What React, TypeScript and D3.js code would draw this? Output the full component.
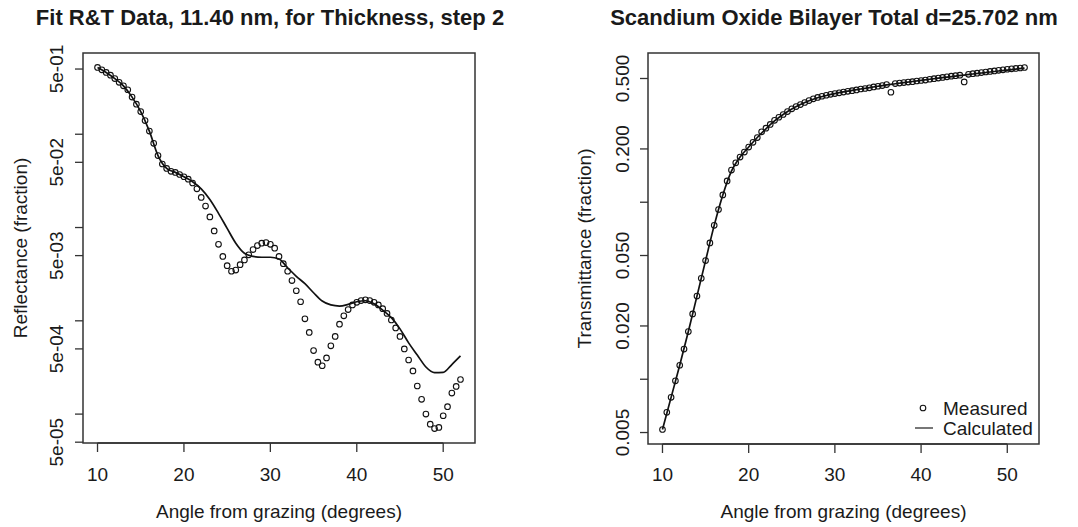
import React from "react";
import * as d3 from "d3";

// measured angles (degrees), 0.5 deg steps
const angles = [
  10, 10.5, 11, 11.5, 12, 12.5, 13, 13.5, 14, 14.5, 15, 15.5, 16, 16.5, 17, 17.5,
  18, 18.5, 19, 19.5, 20, 20.5, 21, 21.5, 22, 22.5, 23, 23.5, 24, 24.5, 25, 25.5,
  26, 26.5, 27, 27.5, 28, 28.5, 29, 29.5, 30, 30.5, 31, 31.5, 32, 32.5, 33, 33.5,
  34, 34.5, 35, 35.5, 36, 36.5, 37, 37.5, 38, 38.5, 39, 39.5, 40, 40.5, 41, 41.5,
  42, 42.5, 43, 43.5, 44, 44.5, 45, 45.5, 46, 46.5, 47, 47.5, 48, 48.5, 49, 49.5,
  50, 50.5, 51, 51.5, 52,
];

const reflMeasured = [
  0.52, 0.49, 0.46, 0.43, 0.395, 0.36, 0.33, 0.3, 0.25, 0.21, 0.175, 0.14, 0.108, 0.08, 0.059, 0.048,
  0.043, 0.04, 0.039, 0.037, 0.035, 0.033, 0.03, 0.026, 0.021, 0.017, 0.013, 0.0092, 0.0066, 0.0049, 0.0039, 0.0034,
  0.0035, 0.004, 0.0045, 0.0051, 0.0058, 0.0064, 0.0068, 0.0069, 0.0066, 0.006, 0.0049, 0.0041, 0.0034, 0.0027, 0.0021, 0.0016,
  0.00105, 0.00075, 0.00048, 0.00036, 0.00033, 0.0004, 0.00054, 0.00068, 0.00092, 0.00113, 0.00132, 0.00148, 0.00158, 0.00165, 0.00168, 0.00165,
  0.00158, 0.00148, 0.00135, 0.0012, 0.00102, 0.00084, 0.00068, 0.0005, 0.00038, 0.00029, 0.0002, 0.000144, 0.0001, 0.000078, 0.00007, 0.000072,
  0.000096, 0.00012, 0.000168, 0.000198, 0.000235,
];

const transMeasured = [
  0.0052, 0.0065, 0.0079, 0.0098, 0.012, 0.0148, 0.0186, 0.0234, 0.0295, 0.0372, 0.0468, 0.0589, 0.074, 0.091, 0.11, 0.132,
  0.152, 0.167, 0.18, 0.192, 0.205, 0.218, 0.232, 0.25, 0.262, 0.275, 0.29, 0.302, 0.313, 0.325, 0.337, 0.347,
  0.356, 0.366, 0.375, 0.384, 0.391, 0.397, 0.402, 0.407, 0.411, 0.415, 0.419, 0.423, 0.427, 0.431, 0.436, 0.439,
  0.443, 0.448, 0.452, 0.456, 0.462, 0.418, 0.468, 0.471, 0.474, 0.477, 0.48, 0.484, 0.487, 0.49, 0.495, 0.499,
  0.503, 0.507, 0.511, 0.515, 0.519, 0.522, 0.478, 0.528, 0.532, 0.536, 0.54, 0.544, 0.548, 0.552, 0.556, 0.56,
  0.564, 0.567, 0.57, 0.573, 0.577,
];

// calculated curves, 1 deg steps
const calcAngles = [
  10, 11, 12, 13, 14, 15, 16, 17, 18, 19, 20, 21, 22, 23, 24, 25, 26, 27, 28, 29, 30, 31,
  32, 33, 34, 35, 36, 37, 38, 39, 40, 41, 42, 43, 44, 45, 46, 47, 48, 49, 50, 51, 52,
];

const reflCalc = [
  0.52, 0.46, 0.395, 0.33, 0.25, 0.175, 0.108, 0.059, 0.043, 0.039, 0.035, 0.031, 0.026, 0.02, 0.0142, 0.0098,
  0.0068, 0.0053, 0.0049, 0.0048, 0.0048, 0.0046, 0.0037, 0.003, 0.0025, 0.002, 0.00163, 0.00148, 0.00144, 0.0015,
  0.0016, 0.00164, 0.00152, 0.0013, 0.00108, 0.00082, 0.00058, 0.00043, 0.00032, 0.000278, 0.00028, 0.00034, 0.00042,
];

const transCalc = [
  0.0052, 0.0079, 0.012, 0.0186, 0.0295, 0.0468, 0.074, 0.11, 0.15, 0.18, 0.205, 0.232, 0.26, 0.288, 0.313, 0.336,
  0.356, 0.374, 0.389, 0.401, 0.411, 0.42, 0.428, 0.436, 0.444, 0.452, 0.46, 0.467, 0.474, 0.481, 0.488, 0.495,
  0.502, 0.509, 0.516, 0.523, 0.53, 0.537, 0.544, 0.551, 0.558, 0.565, 0.572,
];

const xTicks = [10, 20, 30, 40, 50];
const reflTicks = [5e-5, 1e-4, 5e-4, 1e-3, 5e-3, 1e-2, 5e-2, 1e-1, 5e-1];
const reflTickLabels = ["5e-05", "", "5e-04", "", "5e-03", "", "5e-02", "", "5e-01"];
const transTicks = [0.005, 0.01, 0.02, 0.05, 0.1, 0.2, 0.5];
const transTickLabels = ["0.005", "", "0.020", "0.050", "", "0.200", "0.500"];

const FONT = "'Liberation Sans', Arial, Helvetica, sans-serif";
const INK = "#1a1a1a";
const AXIS_FONT = "19px";

// R style 4% padding
const pad = (lo, hi) => {
  const d = (hi - lo) * 0.04;
  return [lo - d, hi + d];
};

function drawPanel(svg, p) {
  const g = svg.append("g");
  const [xa, xb] = pad(d3.min(p.xs), d3.max(p.xs));
  const x = d3.scaleLinear().domain([xa, xb]).range([p.box.x0, p.box.x1]);
  const [la, lb] = pad(
    Math.log10(d3.min(p.ys)),
    Math.log10(d3.max(p.ys))
  );
  const y = d3
    .scaleLog()
    .domain([Math.pow(10, la), Math.pow(10, lb)])
    .range([p.box.y1, p.box.y0]);

  // title
  g.append("text")
    .attr("x", p.titleX)
    .attr("y", 25)
    .attr("text-anchor", "middle")
    .style("font-family", FONT)
    .style("font-size", "22px")
    .style("font-weight", "bold")
    .attr("fill", INK)
    .text(p.title);

  // x axis
  g.selectAll("line.xt")
    .data(xTicks)
    .enter()
    .append("line")
    .attr("x1", d => x(d))
    .attr("x2", d => x(d))
    .attr("y1", p.box.y1)
    .attr("y2", p.box.y1 + 9)
    .attr("stroke", "#333")
    .attr("stroke-width", 1.3);
  g.append("line")
    .attr("x1", x(xTicks[0]))
    .attr("x2", x(xTicks[xTicks.length - 1]))
    .attr("y1", p.box.y1)
    .attr("y2", p.box.y1)
    .attr("stroke", "#333")
    .attr("stroke-width", 1.3);
  g.selectAll("text.xl")
    .data(xTicks)
    .enter()
    .append("text")
    .attr("x", d => x(d))
    .attr("y", 481)
    .attr("text-anchor", "middle")
    .style("font-family", FONT)
    .style("font-size", AXIS_FONT)
    .attr("fill", INK)
    .text(d => d);
  g.append("text")
    .attr("x", (p.box.x0 + p.box.x1) / 2)
    .attr("y", 518)
    .attr("text-anchor", "middle")
    .style("font-family", FONT)
    .style("font-size", AXIS_FONT)
    .attr("fill", INK)
    .text("Angle from grazing (degrees)");

  // y axis
  g.selectAll("line.yt")
    .data(p.yTicks)
    .enter()
    .append("line")
    .attr("x1", p.box.x0 - 8)
    .attr("x2", p.box.x0)
    .attr("y1", d => y(d))
    .attr("y2", d => y(d))
    .attr("stroke", "#333")
    .attr("stroke-width", 1.3);
  g.selectAll("text.yl")
    .data(p.yTicks)
    .enter()
    .append("text")
    .attr("transform", d => `translate(${p.yLabelX}, ${y(d)}) rotate(-90)`)
    .attr("dy", "0.35em")
    .attr("text-anchor", "middle")
    .style("font-family", FONT)
    .style("font-size", AXIS_FONT)
    .attr("fill", INK)
    .text((d, i) => p.yLabels[i]);
  g.append("text")
    .attr(
      "transform",
      `translate(${p.yTitleX}, ${(p.box.y0 + p.box.y1) / 2}) rotate(-90)`
    )
    .attr("dy", "0.35em")
    .attr("text-anchor", "middle")
    .style("font-family", FONT)
    .style("font-size", AXIS_FONT)
    .attr("fill", INK)
    .text(p.yTitle);

  // box
  g.append("rect")
    .attr("x", p.box.x0)
    .attr("y", p.box.y0)
    .attr("width", p.box.x1 - p.box.x0)
    .attr("height", p.box.y1 - p.box.y0)
    .attr("fill", "none")
    .attr("stroke", "#333")
    .attr("stroke-width", 1.5);

  // calculated line
  const line = d3
    .line()
    .x(d => x(d[0]))
    .y(d => y(d[1]))
    .curve(d3.curveMonotoneX);
  g.append("path")
    .attr("d", line(p.cx.map((v, i) => [v, p.cy[i]])))
    .attr("fill", "none")
    .attr("stroke", "#111")
    .attr("stroke-width", 1.7);

  // measured points
  g.selectAll("circle.pt")
    .data(p.xs.map((v, i) => [v, p.ys[i]]))
    .enter()
    .append("circle")
    .attr("cx", d => x(d[0]))
    .attr("cy", d => y(d[1]))
    .attr("r", 2.8)
    .attr("fill", "none")
    .attr("stroke", "#111")
    .attr("stroke-width", 1.1);

  return { x, y };
}

export default function App() {
  const ref = React.useRef(null);

  React.useEffect(() => {
    const svg = d3.select(ref.current);
    svg.selectAll("*").remove();

    drawPanel(svg, {
      box: { x0: 83, x1: 475, y0: 53, y1: 443 },
      xs: angles,
      ys: reflMeasured,
      cx: calcAngles,
      cy: reflCalc,
      yTicks: reflTicks,
      yLabels: reflTickLabels,
      title: "Fit R&T Data, 11.40 nm, for Thickness, step 2",
      titleX: 270,
      yTitle: "Reflectance (fraction)",
      yLabelX: 56,
      yTitleX: 20,
    });

    drawPanel(svg, {
      box: { x0: 648, x1: 1039, y0: 53, y1: 444 },
      xs: angles,
      ys: transMeasured,
      cx: calcAngles,
      cy: transCalc,
      yTicks: transTicks,
      yLabels: transTickLabels,
      title: "Scandium Oxide Bilayer Total d=25.702 nm",
      titleX: 834,
      yTitle: "Transmittance (fraction)",
      yLabelX: 622.5,
      yTitleX: 584,
    });

    // legend
    const legend = svg.append("g");
    legend
      .append("circle")
      .attr("cx", 923)
      .attr("cy", 408)
      .attr("r", 2.8)
      .attr("fill", "none")
      .attr("stroke", "#111")
      .attr("stroke-width", 1.1);
    legend
      .append("line")
      .attr("x1", 915)
      .attr("x2", 933)
      .attr("y1", 428)
      .attr("y2", 428)
      .attr("stroke", "#555")
      .attr("stroke-width", 1.6);
    legend
      .selectAll("text")
      .data(["Measured", "Calculated"])
      .enter()
      .append("text")
      .attr("x", 943)
      .attr("y", (d, i) => 408 + i * 20)
      .attr("dy", "0.35em")
      .style("font-family", FONT)
      .style("font-size", AXIS_FONT)
      .attr("fill", INK)
      .text(d => d);
  }, []);

  return (
    <svg
      ref={ref}
      width={1078}
      height={527}
      style={{ position: "absolute", left: 0, top: 0, background: "#fff" }}
    />
  );
}
